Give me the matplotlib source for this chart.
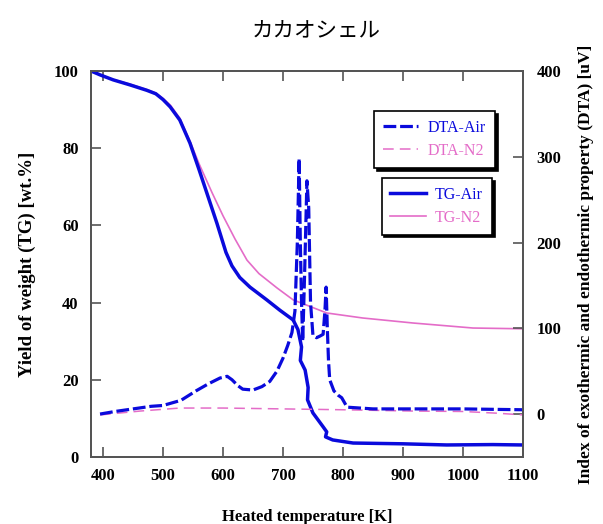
import matplotlib
matplotlib.use("Agg")
import matplotlib.pyplot as plt

# TG (left axis, wt.%)
tg_air_T = [380, 395, 417, 445, 473, 488, 500, 512, 528, 545, 560, 575, 590, 605, 615, 628, 645, 673, 695,
            717, 725, 731, 729, 737, 742, 741, 750, 767, 773, 771, 783, 817, 900, 973, 1050, 1100]
tg_air = [100, 99, 97.7, 96.4, 95, 94.1, 92.6, 90.7, 87.3, 81.3, 74.5, 67.5, 60.5, 53, 49.5, 46.5, 44, 40.7, 38,
          35.5, 33, 28.5, 25, 22.5, 18, 14.8, 11.4, 7.8, 6.5, 5.2, 4.4, 3.6, 3.4, 3.1, 3.2, 3.1]

tg_n2_T = [380, 395, 417, 445, 473, 488, 500, 512, 528, 545, 560, 582, 600, 620, 640, 660, 690, 717, 773,
           833, 917, 1017, 1100]
tg_n2 = [100, 99, 97.8, 96.6, 95.2, 94.3, 92.9, 91.2, 87.8, 81.8, 76, 68.4, 62.5, 56.5, 51, 47.5, 43.8, 40.7,
         37.3, 36, 34.7, 33.4, 33.2]

# DTA (right axis, uV)
dta_air_T = [395, 420, 450, 480, 500, 530, 555, 575, 595, 607, 615, 625, 633, 650, 665, 678, 690, 700,
             708, 715, 720, 724, 727, 729, 731, 733, 736, 740, 743, 746, 750, 756, 762, 767, 770, 772,
             774, 776, 778, 785, 792, 798, 807, 850, 900, 1000, 1100]
dta_air = [0, 3, 6, 9, 10, 16, 27, 35, 42, 44, 40, 33, 29, 28, 32, 38, 50, 65,
           80, 95, 120, 200, 298, 200, 130, 85, 160, 272, 240, 130, 92, 89, 91, 93, 120, 148,
           100, 62, 40, 27, 22, 19, 8, 6, 6, 6, 5]

dta_n2_T = [395, 462, 528, 600, 700, 800, 917, 1000, 1057, 1100]
dta_n2 = [-1, 3.5, 7, 7, 6, 5, 3.5, 3, 1, -1]

x_ticks = [400, 500, 600, 700, 800, 900, 1000, 1100]
tg_ticks = [0, 20, 40, 60, 80, 100]
dta_ticks = [0, 100, 200, 300, 400]

BLUE = "#0A0ADC"
PINK = "#E46CC8"
SERIF = "Liberation Serif"

fig = plt.figure(figsize=(6.03, 5.24), dpi=100)
ax = fig.add_axes([0.151, 0.128, 0.716, 0.7365])
ax2 = ax.twinx()

h_tga, = ax.plot(tg_air_T, tg_air, color=BLUE, lw=2.5, label="TG-Air", zorder=3)
h_tgn, = ax.plot(tg_n2_T, tg_n2, color=PINK, lw=1.2, label="TG-N2", zorder=2)
h_dtn, = ax2.plot(dta_n2_T, dta_n2, color=PINK, lw=1.1, dashes=(7, 4), label="DTA-N2")
h_dta, = ax2.plot(dta_air_T, dta_air, color=BLUE, lw=2.3, dashes=(4, 1.2), label="DTA-Air")

ax.set_xlim(380, 1100)
ax.set_ylim(0, 100)
ax2.set_ylim(-50, 400)
ax.set_xticks(x_ticks)
ax.set_yticks(tg_ticks)
ax2.set_yticks(dta_ticks)

for a in (ax, ax2):
    for sp in a.spines.values():
        sp.set_color("#555555")
        sp.set_linewidth(1.4)
ax.tick_params(axis="x", direction="in", length=7, width=1.2, color="#555555", top=True, pad=8)
ax.tick_params(axis="y", direction="in", length=7, width=1.2, color="#555555", pad=9)
ax2.tick_params(axis="y", direction="in", length=7, width=1.2, color="#555555", pad=10)

for lab in ax.get_xticklabels() + ax.get_yticklabels() + ax2.get_yticklabels():
    lab.set_fontfamily(SERIF)
    lab.set_fontweight("bold")
    lab.set_fontsize(12)

ax.set_xlabel("Heated temperature [K]", family=SERIF, weight="bold", fontsize=12, labelpad=18)
ax.set_ylabel("Yield of weight (TG) [wt.%]", family=SERIF, weight="bold", fontsize=13.5, labelpad=13)
ax2.set_ylabel("Index of exothermic and endothermic property (DTA) [uV]", family=SERIF,
               weight="bold", fontsize=12.5, labelpad=12)

fig.text(0.524, 0.94, "カカオシェル", ha="center", va="center", fontsize=15.5,
         family=["Noto Sans CJK JP", "DejaVu Sans"])

leg_kw = dict(loc="upper right", fancybox=False, framealpha=1, edgecolor="black",
              prop={"family": SERIF, "size": 11.5}, handlelength=2.2, labelcolor="linecolor",
              shadow={"color": "black", "alpha": 1}, borderpad=0.55, labelspacing=0.45,
              handletextpad=0.6)
leg1 = ax2.legend(handles=[h_dta, h_dtn], bbox_to_anchor=(0.954, 0.917), **leg_kw)
leg1.get_frame().set_linewidth(1.2)
ax2.add_artist(leg1)
leg2 = ax2.legend(handles=[h_tga, h_tgn], bbox_to_anchor=(0.947, 0.744), **leg_kw)
leg2.get_frame().set_linewidth(1.2)

fig.savefig("out.png", dpi=100)
